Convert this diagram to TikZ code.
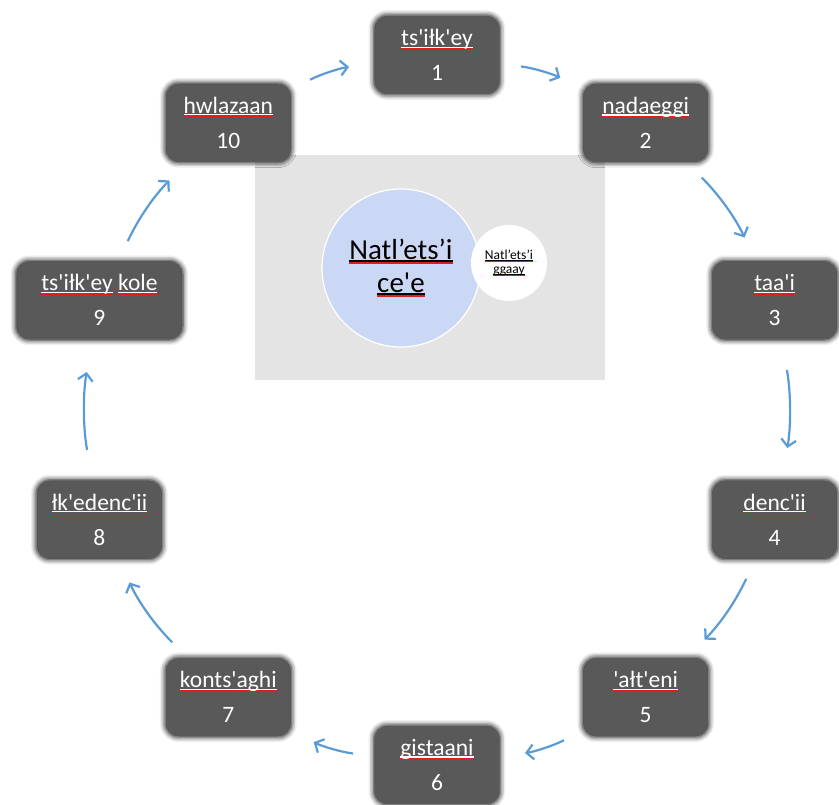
\documentclass[tikz,border=0pt]{standalone}
\usepackage{fontspec}
\setmainfont{Carlito}[Ligatures=TeXOff]
\usetikzlibrary{arrows.meta,shadows.blur}

\definecolor{stagegray}{RGB}{89,89,89}
\definecolor{flowblue}{RGB}{91,155,213}
\definecolor{panelgray}{RGB}{228,228,228}
\definecolor{bubble}{RGB}{203,216,245}
\definecolor{spellred}{RGB}{222,30,30}

% underlined word with a red line under it
\newcommand{\spell}[1]{\leavevmode\setbox0\hbox{#1}%
  \rlap{\rule[-0.09em]{\wd0}{0.05em}}%
  \rlap{\color{spellred}\rule[-0.17em]{\wd0}{0.06em}}\box0\relax}

\begin{document}
\begin{tikzpicture}[x=1pt, y=1pt,
    stage/.style={rectangle, rounded corners=13pt, fill=stagegray, text=white, minimum width=124pt, minimum height=78pt, align=center, font=\fontsize{23.5}{35}\selectfont,
        blur shadow={shadow xshift=0pt, shadow yshift=0pt, shadow scale=1.02, shadow blur radius=5pt, shadow opacity=100}},
    flow/.style={-{Straight Barb[length=7pt, width=15pt]}, flowblue, line width=2.2pt, bend left=10, shorten <=22pt, shorten >=26pt}
]
    \useasboundingbox (-437,-395) rectangle (402,410);

    % Centre panel
    \fill[panelgray] (-182,30) rectangle (168,255);
    \node[circle, fill=bubble, draw=white, line width=1.2pt, minimum size=158pt, inner sep=0pt, align=center, font=\fontsize{29}{33}\selectfont] (core) at (-36,142) {\spell{Natl’ets’i}\\\spell{ce'e}};
    \node[circle, fill=white, minimum size=76pt, inner sep=0pt, align=center, font=\fontsize{13.5}{14}\selectfont] (side) at (72,147) {\spell{Natl’ets’i}\\\spell{ggaay}};

    % Ring of stages
    \node[stage] (n1) at (90:355) {\spell{ts'iłk'ey}\\1};
    \node[stage] (n2) at (54:355) {\spell{nadaeggi}\\2};
    \node[stage] (n3) at (18:355) {\spell{taa'i}\\3};
    \node[stage] (n4) at (-18:355) {\spell{denc'ii}\\4};
    \node[stage] (n5) at (-54:355) {\spell{'ałt'eni}\\5};
    \node[stage] (n6) at (-90:355) {\spell{gistaani}\\6};
    \node[stage] (n7) at (-126:355) {\spell{konts'aghi}\\7};
    \node[stage] (n8) at (-162:355) {\spell{łk'edenc'ii}\\8};
    \node[stage, minimum width=164pt] (n9) at (162:355) {\spell{ts'iłk'ey} \spell{kole}\\9};
    \node[stage] (n10) at (126:355) {\spell{hwlazaan}\\10};

    % Arrows
    \draw[flow] (n1) to (n2);
    \draw[flow] (n2) to (n3);
    \draw[flow, shorten <=31pt, shorten >=33pt] (n3) to (n4);
    \draw[flow] (n4) to (n5);
    \draw[flow] (n5) to (n6);
    \draw[flow] (n6) to (n7);
    \draw[flow] (n7) to (n8);
    \draw[flow, shorten <=31pt, shorten >=33pt] (n8) to (n9);
    \draw[flow] (n9) to (n10);
    \draw[flow] (n10) to (n1);

\end{tikzpicture}
\end{document}
